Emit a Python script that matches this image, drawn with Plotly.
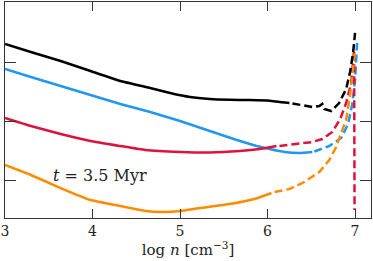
import plotly.graph_objects as go

# Black
black_solid_x = [3.0, 3.295, 3.636, 3.977, 4.318, 4.659, 4.886, 5.114, 5.341, 5.568, 5.795, 6.023, 6.25]
black_solid_y = [3.305, 3.169, 3.017, 2.847, 2.678, 2.559, 2.475, 2.407, 2.373, 2.360, 2.355, 2.345, 2.305]
black_dash_x = [6.284, 6.511, 6.591, 6.625, 6.648, 6.727, 6.818, 6.898, 6.943, 6.977, 7.0]
black_dash_y = [2.297, 2.237, 2.254, 2.288, 2.203, 2.169, 2.305, 2.542, 2.831, 3.153, 3.492]

# Blue
blue_solid_x = [3.0, 3.295, 3.636, 3.977, 4.318, 4.659, 5.0, 5.341, 5.648, 5.875, 6.023, 6.193, 6.364, 6.511]
blue_solid_y = [2.881, 2.746, 2.593, 2.441, 2.288, 2.153, 2.0, 1.831, 1.678, 1.576, 1.525, 1.475, 1.458, 1.475]
blue_dash_x = [6.534, 6.705, 6.841, 6.920, 6.966, 7.0, 7.023]
blue_dash_y = [1.483, 1.576, 1.712, 1.949, 2.271, 2.695, 3.322]

# Red
red_solid_x = [3.0, 3.295, 3.636, 3.977, 4.318, 4.602, 5.0, 5.341, 5.682, 5.909, 6.102]
red_solid_y = [2.051, 1.915, 1.780, 1.661, 1.576, 1.508, 1.475, 1.466, 1.492, 1.525, 1.576]
red_dash_x = [6.136, 6.364, 6.511, 6.625, 6.739, 6.830, 6.898, 6.955, 6.977, 6.989, 6.994]
red_dash_y = [1.576, 1.610, 1.644, 1.695, 1.814, 2.034, 2.305, 2.644, 2.983, 3.203, 0.492]

# Orange
orange_solid_x = [3.0, 3.295, 3.636, 3.977, 4.318, 4.602, 4.830, 5.0, 5.227, 5.568, 5.852, 6.045]
orange_solid_y = [1.254, 1.085, 0.864, 0.661, 0.559, 0.475, 0.458, 0.475, 0.525, 0.593, 0.678, 0.780]
orange_dash_x = [6.080, 6.25, 6.420, 6.591, 6.705, 6.784, 6.841, 6.898, 6.943, 6.977, 7.0]
orange_dash_y = [0.797, 0.847, 0.966, 1.136, 1.339, 1.559, 1.797, 2.017, 2.441, 2.864, 3.203]

x_ticks = [3, 4, 5, 6, 7]
y_ticks = [1, 2, 3]

BLACK = "#000000"
BLUE = "#2196F3"
RED = "#DC143C"
ORANGE = "#FF8C00"
DASH = "8px,4px"
W = 2.5
FONT = "DejaVu Serif"

fig = go.Figure()
series = [
    (blue_solid_x, blue_solid_y, blue_dash_x, blue_dash_y, BLUE),
    (red_solid_x, red_solid_y, red_dash_x, red_dash_y, RED),
    (orange_solid_x, orange_solid_y, orange_dash_x, orange_dash_y, ORANGE),
    (black_solid_x, black_solid_y, black_dash_x, black_dash_y, BLACK),
]
for sx, sy, dx, dy, c in series:
    fig.add_trace(go.Scatter(x=sx, y=sy, mode="lines", line=dict(color=c, width=W, shape="spline", smoothing=0.3), showlegend=False))
    fig.add_trace(go.Scatter(x=dx, y=dy, mode="lines", line=dict(color=c, width=W, dash=DASH), showlegend=False))

fig.add_annotation(x=4.09, y=1.07, xref="x", yref="y", text="<i>t</i> = 3.5 Myr", showarrow=False,
                   font=dict(family=FONT, size=16, color="#222"))

fig.update_layout(
    width=373, height=261,
    margin=dict(l=4, r=1, t=2, b=43),
    paper_bgcolor="white", plot_bgcolor="white",
    font=dict(family=FONT, size=14, color="#222"),
)
fig.update_xaxes(range=[3, 7.182], tickvals=x_ticks, ticks="inside", ticklen=9, tickcolor="#333",
                 showline=True, linecolor="#333", linewidth=1, mirror="ticks", showgrid=False, zeroline=False,
                 tickfont=dict(family=FONT, size=14), ticklabeloverflow="allow",
                 title=dict(text="log <i>n</i> [cm<sup>−3</sup>]", font=dict(family=FONT, size=15), standoff=2))
fig.update_yaxes(range=[0.356, 4.017], tickvals=y_ticks, showticklabels=False, ticks="inside", ticklen=11,
                 tickcolor="#333", showline=True, linecolor="#333", linewidth=1, mirror="ticks",
                 showgrid=False, zeroline=False)

fig.write_html("out.html", config={"displayModeBar": False},
               post_script="document.body.style.margin='0';document.body.style.overflow='hidden';")
